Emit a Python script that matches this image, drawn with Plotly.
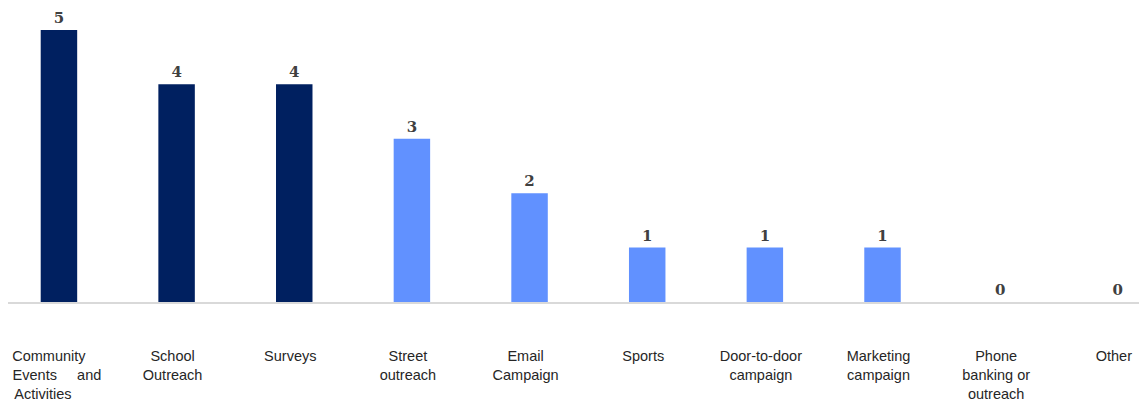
import plotly.graph_objects as go

NB = "\u00a0"
categories = [
    "Community" + NB * 3 + "<br>" + NB + "Events" + NB * 5 + "and<br>Activities" + NB * 6,
    "School<br>Outreach",
    "Surveys",
    "Street<br>outreach",
    "Email<br>Campaign",
    "Sports",
    "Door-to-door<br>campaign",
    "Marketing<br>campaign",
    "Phone<br>banking or<br>outreach",
    "Other",
]
values = [5, 4, 4, 3, 2, 1, 1, 1, 0, 0]
dark_blue = "#002060"
light_blue = "#6191FF"
colors = [dark_blue] * 3 + [light_blue] * 7

x_idx = list(range(len(categories)))

fig = go.Figure(
    go.Bar(
        x=x_idx,
        y=values,
        marker=dict(color=colors, line=dict(width=0)),
        width=0.31,
        text=[str(v) for v in values],
        textposition="outside",
        cliponaxis=False,
        textfont=dict(family="DejaVu Serif", size=15, color="#404040", weight="bold"),
        hoverinfo="skip",
    )
)

fig.update_layout(
    width=1139,
    height=402,
    margin=dict(l=8, r=0, t=0, b=100, autoexpand=False),
    plot_bgcolor="white",
    paper_bgcolor="white",
    showlegend=False,
    xaxis=dict(
        tickmode="array",
        tickvals=x_idx,
        ticktext=categories,
        range=[-0.433, 9.18],
        showline=True,
        linecolor="#D9D9D9",
        linewidth=1.5,
        showgrid=False,
        zeroline=False,
        ticks="",
        automargin=False,
        ticklabelstandoff=40,
        ticklabelshift=-4,
        tickfont=dict(family="Liberation Sans, Arial", size=14.5, color="#262626"),
    ),
    yaxis=dict(
        range=[0, 5.55],
        visible=False,
        showgrid=False,
        zeroline=False,
        automargin=False,
    ),
)

fig.write_html(
    "out.html",
    config={"displayModeBar": False},
    post_script="document.body.style.margin='0';document.body.style.overflow='hidden';",
)
